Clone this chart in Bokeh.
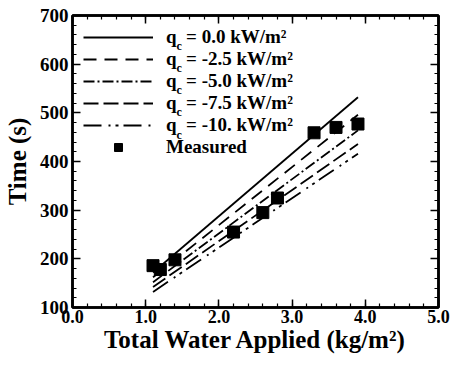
from bokeh.plotting import figure
from bokeh.models import (Range1d, LinearAxis, SingleIntervalTicker, Legend, LegendItem,
                          Label, PrintfTickFormatter, CustomJSTickFormatter)
from bokeh.embed import file_html
from bokeh.resources import INLINE

# ---- data ----
line_x = [1.1, 3.9]
qc_0 = [172, 532]
qc_25 = [162, 496]
qc_50 = [152, 464]
qc_75 = [142, 436]
qc_10 = [132, 416]
meas_x = [1.1, 1.2, 1.4, 2.2, 2.6, 2.8, 3.3, 3.6, 3.9]
meas_y = [186, 178, 198, 255, 295, 325, 459, 470, 477]
legend_labels = ["q  = 0.0 kW/m²", "q  = -2.5 kW/m²", "q  = -5.0 kW/m²",
                 "q  = -7.5 kW/m²", "q  = -10. kW/m²", "Measured"]
x_title = "Total Water Applied (kg/m²)"
y_title = "Time (s)"

FONT = "Liberation Serif"

p = figure(width=450, height=356, output_backend="svg", toolbar_location=None,
           x_range=Range1d(0, 5), y_range=Range1d(100, 700),
           min_border_left=69, min_border_right=12, min_border_top=15, min_border_bottom=49)
p.xgrid.visible = False
p.ygrid.visible = False
p.outline_line_color = "black"
p.outline_line_width = 2.5

xt = SingleIntervalTicker(interval=1, num_minor_ticks=5)
yt = SingleIntervalTicker(interval=100, num_minor_ticks=5)

for ax, t in ((p.xaxis[0], xt), (p.yaxis[0], yt)):
    ax.ticker = t
    ax.axis_line_width = 2.5
    ax.major_tick_in = 8
    ax.major_tick_out = 0
    ax.minor_tick_in = 4
    ax.minor_tick_out = 0
    ax.major_tick_line_width = 1.5
    ax.minor_tick_line_width = 1.2
    ax.major_label_text_font = FONT
    ax.major_label_text_font_style = "bold"
    ax.major_label_text_color = "black"
    ax.axis_label_text_font = FONT
    ax.axis_label_text_font_style = "bold"
    ax.axis_label_text_color = "black"
    ax.axis_label_text_font_size = "25px"

p.xaxis[0].formatter = PrintfTickFormatter(format="%.1f")
p.xaxis[0].axis_label = x_title
p.xaxis[0].major_label_text_font_size = "18px"
p.xaxis[0].major_label_standoff = 2
p.xaxis[0].axis_label_standoff = 0
p.yaxis[0].axis_label = y_title
p.yaxis[0].major_label_text_font_size = "19px"
p.yaxis[0].major_label_standoff = 4
p.yaxis[0].axis_label_standoff = 6

blank = CustomJSTickFormatter(code="return ''")
for loc, t in (("above", xt), ("right", yt)):
    ax = LinearAxis(ticker=t, formatter=blank, major_label_text_font_size="1px",
                    major_label_standoff=0,
                    axis_line_width=2.5, major_tick_in=8, major_tick_out=0,
                    minor_tick_in=4, minor_tick_out=0,
                    major_tick_line_width=1.5, minor_tick_line_width=1.2)
    p.add_layout(ax, loc)

r0 = p.line(line_x, qc_0, line_color="black", line_width=1.8)
r1 = p.line(line_x, qc_25, line_color="black", line_width=1.8, line_dash="13 8")
r2 = p.line(line_x, qc_50, line_color="black", line_width=1.8, line_dash="11 3 2 3")
r3 = p.line(line_x, qc_75, line_color="black", line_width=1.8, line_dash="15 5")
r4 = p.line(line_x, qc_10, line_color="black", line_width=1.8, line_dash="18 7 2 5 3 5")
r5 = p.scatter(meas_x, meas_y, marker="square", size=12, fill_color="black", line_color="black")

items = [LegendItem(label=lab, renderers=[r]) for lab, r in
         zip(legend_labels, [r0, r1, r2, r3, r4, r5])]
leg = Legend(items=items, location="top_left", margin=0, padding=11,
             glyph_width=70, glyph_height=20, label_height=20, spacing=0,
             label_standoff=13, border_line_color="white", border_line_alpha=0,
             background_fill_alpha=0,
             label_text_font=FONT, label_text_font_style="bold",
             label_text_font_size="19px", label_text_color="black")
p.add_layout(leg)

# subscript "c" of q_c in the legend labels
for i in range(5):
    p.add_layout(Label(x=104, y=262 - 22.3 * i, x_units="screen", y_units="screen",
                       text="c", text_baseline="alphabetic", text_font=FONT,
                       text_font_style="bold", text_font_size="12px", text_color="black"))

open("out.html", "w").write(file_html(p, INLINE))
